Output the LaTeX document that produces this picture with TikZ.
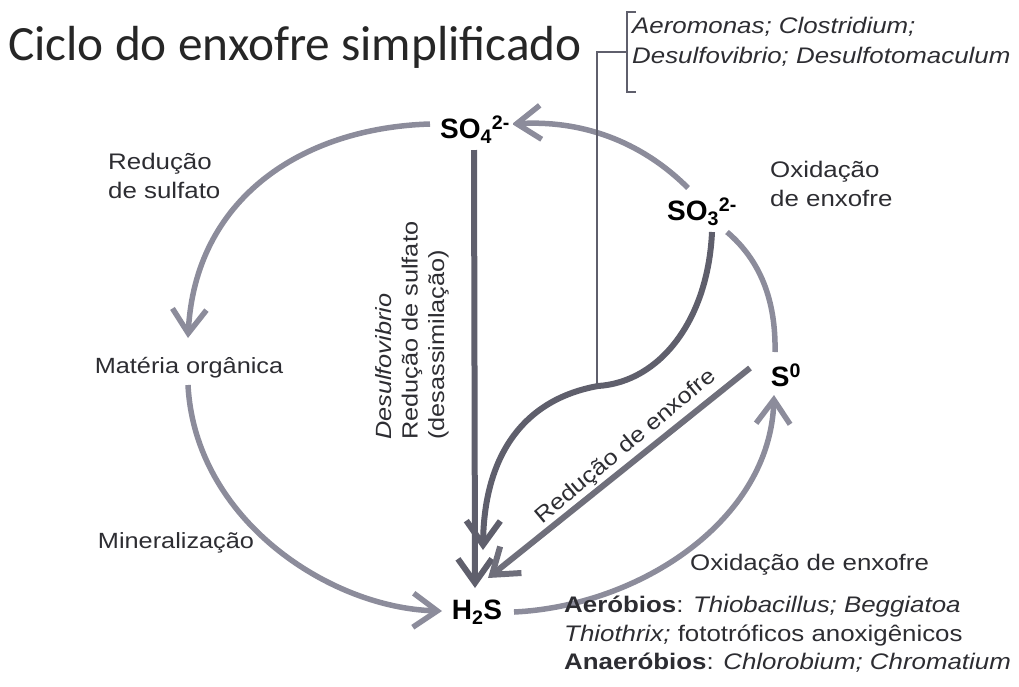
\documentclass[tikz,border=0pt]{standalone}
\usepackage{fontspec}
\setmainfont{Liberation Sans}
\newfontfamily\labfont[FakeStretch=1.15]{Liberation Sans}
\newfontfamily\titfont{Carlito}
\usetikzlibrary{arrows.meta}
\definecolor{arcgray}{RGB}{140,140,155}
\definecolor{darkarc}{RGB}{95,95,108}
\definecolor{txtgray}{RGB}{45,45,50}
\tikzset{
  chem/.style={font=\fontsize{28}{30}\selectfont\bfseries, fill=white, inner sep=3pt, text=black},
  lab/.style={font=\labfont\fontsize{22.5}{28.5}\selectfont, text=txtgray, inner sep=0pt},
  arc/.style={draw=arcgray, line width=5.5pt},
  darc/.style={draw=darkarc, line width=6pt},
  tip/.style={-{Straight Barb[length=24pt,width=34pt]}},
  thin/.style={draw=darkarc, line width=1.8pt}
}
\begin{document}
\begin{tikzpicture}[x=1pt,y=-1pt]
\useasboundingbox (0,0) rectangle (1019,686);
% title
\node[anchor=base west, font=\titfont\fontsize{49.3}{52}\selectfont, text=black!85, inner sep=0pt] (title) at (8,60) {Ciclo do enxofre simplificado};

% coordinates for connector ends
\coordinate (so3a) at (688,188);
\coordinate (so4r) at (512,124);
\coordinate (s0t) at (775,352);
\coordinate (so3b) at (727,232);
\coordinate (so4l) at (430,124);
\coordinate (mot) at (188,338);
\coordinate (mob) at (188,385);
\coordinate (h2sl) at (442,611);
\coordinate (h2sr) at (514,612);
\coordinate (s0b) at (774,395);
\coordinate (so4b) at (474,150);
\coordinate (h2st) at (475,588);
\coordinate (so3c) at (712,232);
\coordinate (smid) at (598,386);
\coordinate (h2su) at (483,550);
\coordinate (s0l) at (750,368);
\coordinate (h2sd) at (488,578);
\coordinate (brk) at (627,52);
\coordinate (vlb) at (597,386);

% arcs
\draw[arc,tip] (so3a) .. controls (640,140) and (580,120) .. (so4r);
\draw[arc] (s0t) .. controls (776,300) and (760,260) .. (so3b);
\draw[arc,tip] (so4l) .. controls (300,128) and (195,200) .. (mot);
\draw[arc,tip] (mob) .. controls (195,520) and (330,608) .. (h2sl);
\draw[arc,tip] (h2sr) .. controls (640,606) and (770,520) .. (s0b);
% thin line and bracket
\draw[thin] (vlb) -- (597,52) -- (brk);
\draw[thin] (636,12) -- (627,12) -- (627,92) -- (636,92);
% dark arrows
\draw[darc,tip] (so4b) -- (h2st);
\draw[darc,tip] (so3c) .. controls (708,320) and (660,382) .. (smid) .. controls (520,400) and (484,460) .. (h2su);
\draw[darc,tip,draw=darkarc!90!white] (s0l) -- (h2sd);

% chemical nodes
\node[chem] (so4) at (475,130) {SO\textsubscript{4}\textsuperscript{2-}};
\node[chem] (so3) at (702,212) {SO\textsubscript{3}\textsuperscript{2-}};
\node[chem] (s0) at (786,375) {S\textsuperscript{0}};
\node[chem] (h2s) at (477,612) {H\textsubscript{2}S};

% labels
\node[lab, align=left, anchor=north west] (redsulf) at (108,153) {Redução\\de sulfato};
\node[lab, font=\labfont\fontsize{22}{28}\selectfont] (mo) at (189,368) {Matéria orgânica};
\node[lab, font=\labfont\fontsize{22}{28}\selectfont] (miner) at (176,543) {Mineralização};
\node[lab, align=left, anchor=north west] (oxi1) at (770,161) {Oxidação\\de enxofre};
\node[lab, anchor=west] (oxi2) at (690,565) {Oxidação de enxofre};
\node[lab, align=left, anchor=north west] (bact) at (564,596) {\textbf{Aeróbios}: \textit{Thiobacillus; Beggiatoa}\\\textit{Thiothrix;} fototróficos anoxigênicos\\\textbf{Anaeróbios}: \textit{Chlorobium; Chromatium}};
\node[lab, align=left, anchor=north west, font=\labfont\fontsize{22.5}{30}\selectfont] (genera) at (632,17) {\textit{Aeromonas; Clostridium;}\\\textit{Desulfovibrio; Desulfotomaculum}};
\node[lab, align=left, anchor=north west, rotate=90, font=\labfont\fontsize{22}{26.5}\selectfont] (desas) at (375,440) {\textit{Desulfovibrio}\\Redução de sulfato\\(desassimilação)};
\node[lab, rotate=40, font=\labfont\fontsize{22}{26}\selectfont] (redenx) at (626,447) {Redução de enxofre};
\end{tikzpicture}
\end{document}
